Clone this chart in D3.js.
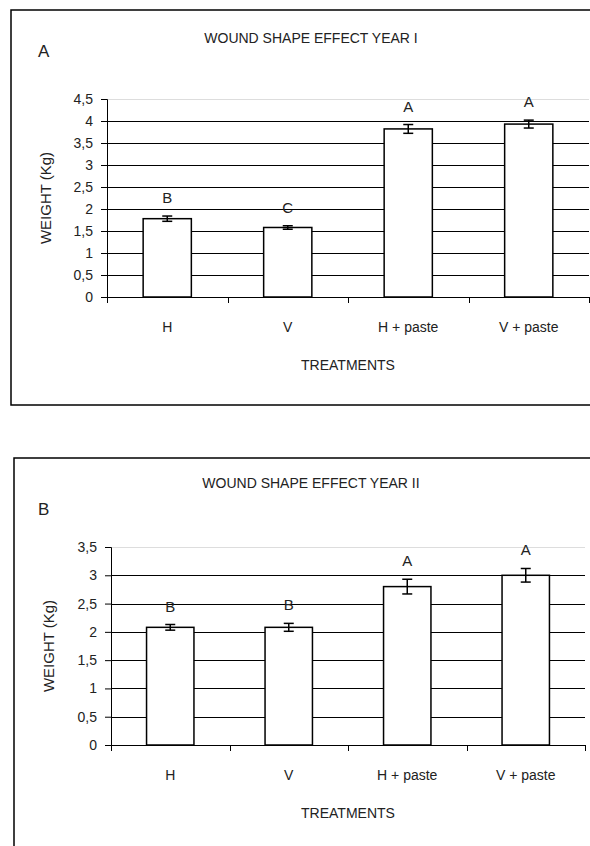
<!DOCTYPE html>
<html>
<head>
<meta charset="utf-8">
<script src="https://cdn.jsdelivr.net/npm/d3@7"></script>
<style>
  body { margin: 0; background: #fff; }
  text { font-family: "Liberation Sans Narrow", "Arial Narrow", "Liberation Sans", sans-serif; fill: #222; }
</style>
</head>
<body>
<svg id="chart" width="590" height="846"></svg>
<script>
// data
var treatments = ["H", "V", "H + paste", "V + paste"];

var yearIMeans = [1.78, 1.58, 3.82, 3.93];
var yearIErrors = [0.06, 0.04, 0.10, 0.09];
var yearILetters = ["B", "C", "A", "A"];
var yearITicks = [0, 0.5, 1, 1.5, 2, 2.5, 3, 3.5, 4, 4.5];

var yearIIMeans = [2.08, 2.08, 2.80, 3.00];
var yearIIErrors = [0.05, 0.07, 0.13, 0.12];
var yearIILetters = ["B", "B", "A", "A"];
var yearIITicks = [0, 0.5, 1, 1.5, 2, 2.5, 3, 3.5];

var svg = d3.select("#chart");

function fmt(d) { return String(d).replace(".", ","); }

function drawPanel(cfg) {
  var g = svg.append("g");

  // frame round the panel
  g.append("rect")
    .attr("x", cfg.box[0]).attr("y", cfg.box[1])
    .attr("width", cfg.box[2]).attr("height", cfg.box[3])
    .attr("fill", "none").attr("stroke", "#000").attr("stroke-width", 1.5);

  g.append("text").attr("x", 311).attr("y", cfg.titleY)
    .attr("text-anchor", "middle").style("font-size", "14px").text(cfg.title);
  g.append("text").attr("x", 38).attr("y", cfg.tagY)
    .style("font-size", "17px").text(cfg.tag);

  var x = d3.scaleBand().domain(treatments).range([cfg.left, cfg.right]);
  var y = d3.scaleLinear().domain([0, cfg.max]).range([cfg.bottom, cfg.top]);
  var barW = x.bandwidth() * 0.4;

  // gridlines
  g.append("g").selectAll("line").data(cfg.ticks.slice(1)).join("line")
    .attr("x1", cfg.left).attr("x2", cfg.right)
    .attr("y1", function (d) { return Math.round(y(d)) + 0.5; })
    .attr("y2", function (d) { return Math.round(y(d)) + 0.5; })
    .attr("stroke", function (d) { return d === cfg.max ? "#ddd" : "#000"; })
    .attr("stroke-width", 1);

  // y axis
  var ya = g.append("g").attr("transform", "translate(" + cfg.left + ",0)")
    .call(d3.axisLeft(y).tickValues(cfg.ticks).tickFormat(fmt).tickSize(6).tickPadding(8));
  ya.selectAll("text").style("font-size", "14px").style("font-family", null);
  ya.selectAll("line, path").attr("stroke", "#000");

  g.append("text")
    .attr("transform", "translate(" + cfg.ylabX + "," + ((cfg.top + cfg.bottom) / 2) + ") rotate(-90)")
    .attr("text-anchor", "middle").attr("dy", "0.35em").style("font-size", "15px")
    .text("WEIGHT (Kg)");

  // x axis: ticks at category boundaries
  var bounds = treatments.map(function (t) { return x(t); }).concat([cfg.right]);
  g.append("line").attr("x1", cfg.left).attr("x2", cfg.right)
    .attr("y1", cfg.bottom + 0.5).attr("y2", cfg.bottom + 0.5).attr("stroke", "#000");
  g.append("g").selectAll("line").data(bounds).join("line")
    .attr("x1", function (d) { return Math.round(d) + 0.5; })
    .attr("x2", function (d) { return Math.round(d) + 0.5; })
    .attr("y1", cfg.bottom).attr("y2", cfg.bottom + 6).attr("stroke", "#000");
  g.append("g").selectAll("text").data(treatments).join("text")
    .attr("x", function (d) { return x(d) + x.bandwidth() / 2; })
    .attr("y", cfg.bottom + 35).attr("text-anchor", "middle").style("font-size", "14px")
    .text(function (d) { return d; });
  g.append("text").attr("x", (cfg.left + cfg.right) / 2).attr("y", cfg.bottom + 73)
    .attr("text-anchor", "middle").style("font-size", "14px").text("TREATMENTS");

  // bars
  g.append("g").selectAll("rect").data(cfg.means).join("rect")
    .attr("x", function (d, i) { return x(treatments[i]) + (x.bandwidth() - barW) / 2; })
    .attr("y", function (d) { return y(d); })
    .attr("width", barW)
    .attr("height", function (d) { return cfg.bottom - y(d); })
    .attr("fill", "#fff").attr("stroke", "#000").attr("stroke-width", 1.5);

  // error bars
  var eb = g.append("g").attr("stroke", "#000").attr("stroke-width", 1.5);
  cfg.means.forEach(function (m, i) {
    var cx = x(treatments[i]) + x.bandwidth() / 2;
    var e = cfg.errors[i];
    eb.append("line").attr("x1", cx).attr("x2", cx).attr("y1", y(m + e)).attr("y2", y(m - e));
    eb.append("line").attr("x1", cx - 5).attr("x2", cx + 5).attr("y1", y(m + e)).attr("y2", y(m + e));
    eb.append("line").attr("x1", cx - 5).attr("x2", cx + 5).attr("y1", y(m - e)).attr("y2", y(m - e));
    g.append("text").attr("x", cx).attr("y", y(m + e) - 13)
      .attr("text-anchor", "middle").style("font-size", "15px").text(cfg.letters[i]);
  });
}

drawPanel({
  box: [11, 10, 600, 395], title: "WOUND SHAPE EFFECT YEAR I", titleY: 43, tag: "A", tagY: 57,
  left: 107, right: 589, top: 99, bottom: 297, max: 4.5, ylabX: 46,
  ticks: yearITicks, means: yearIMeans, errors: yearIErrors, letters: yearILetters
});

drawPanel({
  box: [14, 458, 600, 420], title: "WOUND SHAPE EFFECT YEAR II", titleY: 488, tag: "B", tagY: 515,
  left: 111, right: 585, top: 547, bottom: 745, max: 3.5, ylabX: 49,
  ticks: yearIITicks, means: yearIIMeans, errors: yearIIErrors, letters: yearIILetters
});
</script>
</body>
</html>
